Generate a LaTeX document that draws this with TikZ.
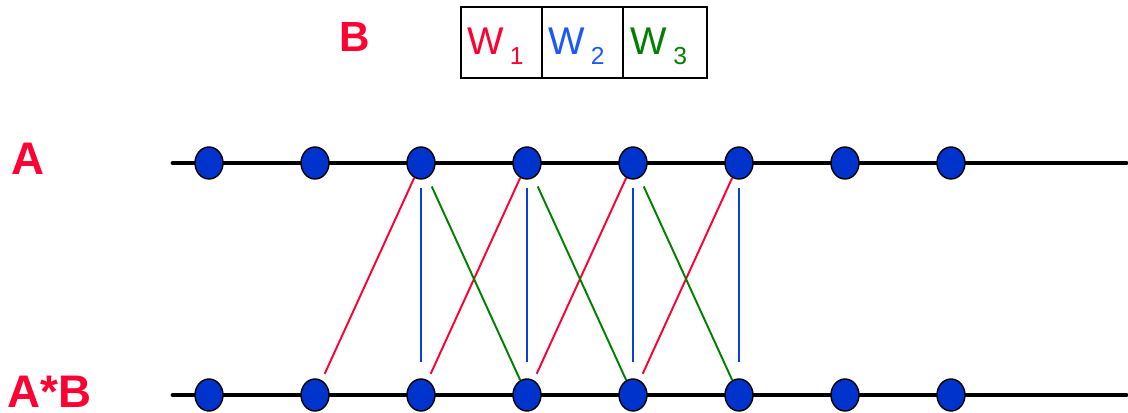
\documentclass[tikz,border=0pt]{standalone}
\usepackage{fontspec}
\setmainfont{Liberation Sans}
\usetikzlibrary{shapes.geometric,positioning}
\definecolor{ink}{HTML}{000000}
\definecolor{redw}{HTML}{FF0033}
\definecolor{bluew}{HTML}{1A57FF}
\definecolor{bluel}{HTML}{0A40D8}
\definecolor{greenw}{HTML}{008000}
\definecolor{dotc}{HTML}{0033CC}

\tikzset{
  sample/.style={ellipse, draw=ink, fill=dotc, line width=0.8pt,
                 minimum width=0.56cm, minimum height=0.64cm, inner sep=0},
  axisline/.style={ink, line width=2.8pt, line cap=round},
  wcell/.style={draw=ink, line width=0.7pt, outer sep=0pt,
                minimum width=1.62cm, minimum height=1.42cm,
                text width=1.38cm, inner xsep=0.12cm, align=left,
                text height=0.6cm, text depth=0.1cm,
                font=\fontsize{22}{22}\selectfont},
  biglabel/.style={color=redw, inner sep=0pt,
                   font=\fontsize{26}{26}\selectfont\bfseries}
}
\newcommand{\wsub}[1]{W\,\raisebox{-5.5pt}{\fontsize{14}{14}\selectfont #1}}

\begin{document}
\begin{tikzpicture}

\useasboundingbox (0,0) rectangle (22.56cm,8.26cm);

\def\xz{4.18}
\def\dx{2.12}
\def\ytop{5.00}
\def\ybot{0.36}

% kernel B
\node[biglabel, font=\fontsize{24}{24}\selectfont\bfseries] (lblB) at (7.10cm,7.52cm) {B};
\node[wcell, text=redw] (w1) at (10.03cm,7.41cm) {\wsub{1}};
\node[wcell, text=bluew, right=0pt of w1] (w2) {\wsub{2}};
\node[wcell, text=greenw, minimum width=1.68cm, right=0pt of w2] (w3) {\wsub{3}};

% signal A and result A*B
\node[biglabel] (lblA)  at (0.56cm,5.08cm) {A};
\node[biglabel] (lblAB) at (0.99cm,0.43cm) {A*B};

\coordinate (topL) at (3.46cm,\ytop cm);
\coordinate (topR) at (22.52cm,\ytop cm);
\coordinate (botL) at (3.46cm,\ybot cm);
\coordinate (botR) at (22.52cm,\ybot cm);
\draw[axisline] (topL) -- (topR);
\draw[axisline] (botL) -- (botR);

\foreach \i in {1,...,8}{
  \pgfmathsetmacro{\xx}{\xz+(\i-1)*\dx}
  \node[sample] (a\i) at (\xx cm,\ytop cm) {};
  \node[sample] (ab\i) at (\xx cm,\ybot cm) {};
}

% one line per weight
\foreach \i in {3,...,6}{
  \pgfmathtruncatemacro{\lo}{\i-1}
  \draw[redw, line width=1.1pt, shorten >=0.14cm] (a\i) -- (ab\lo);
  \draw[bluel, line width=1.1pt, shorten <=0.16cm, shorten >=0.32cm]
    (a\i) -- (ab\i);
}
\foreach \i in {3,...,5}{
  \pgfmathtruncatemacro{\hi}{\i+1}
  \draw[greenw, line width=1.1pt, shorten <=0.19cm] (a\i) -- (ab\hi);
}

\end{tikzpicture}
\end{document}
